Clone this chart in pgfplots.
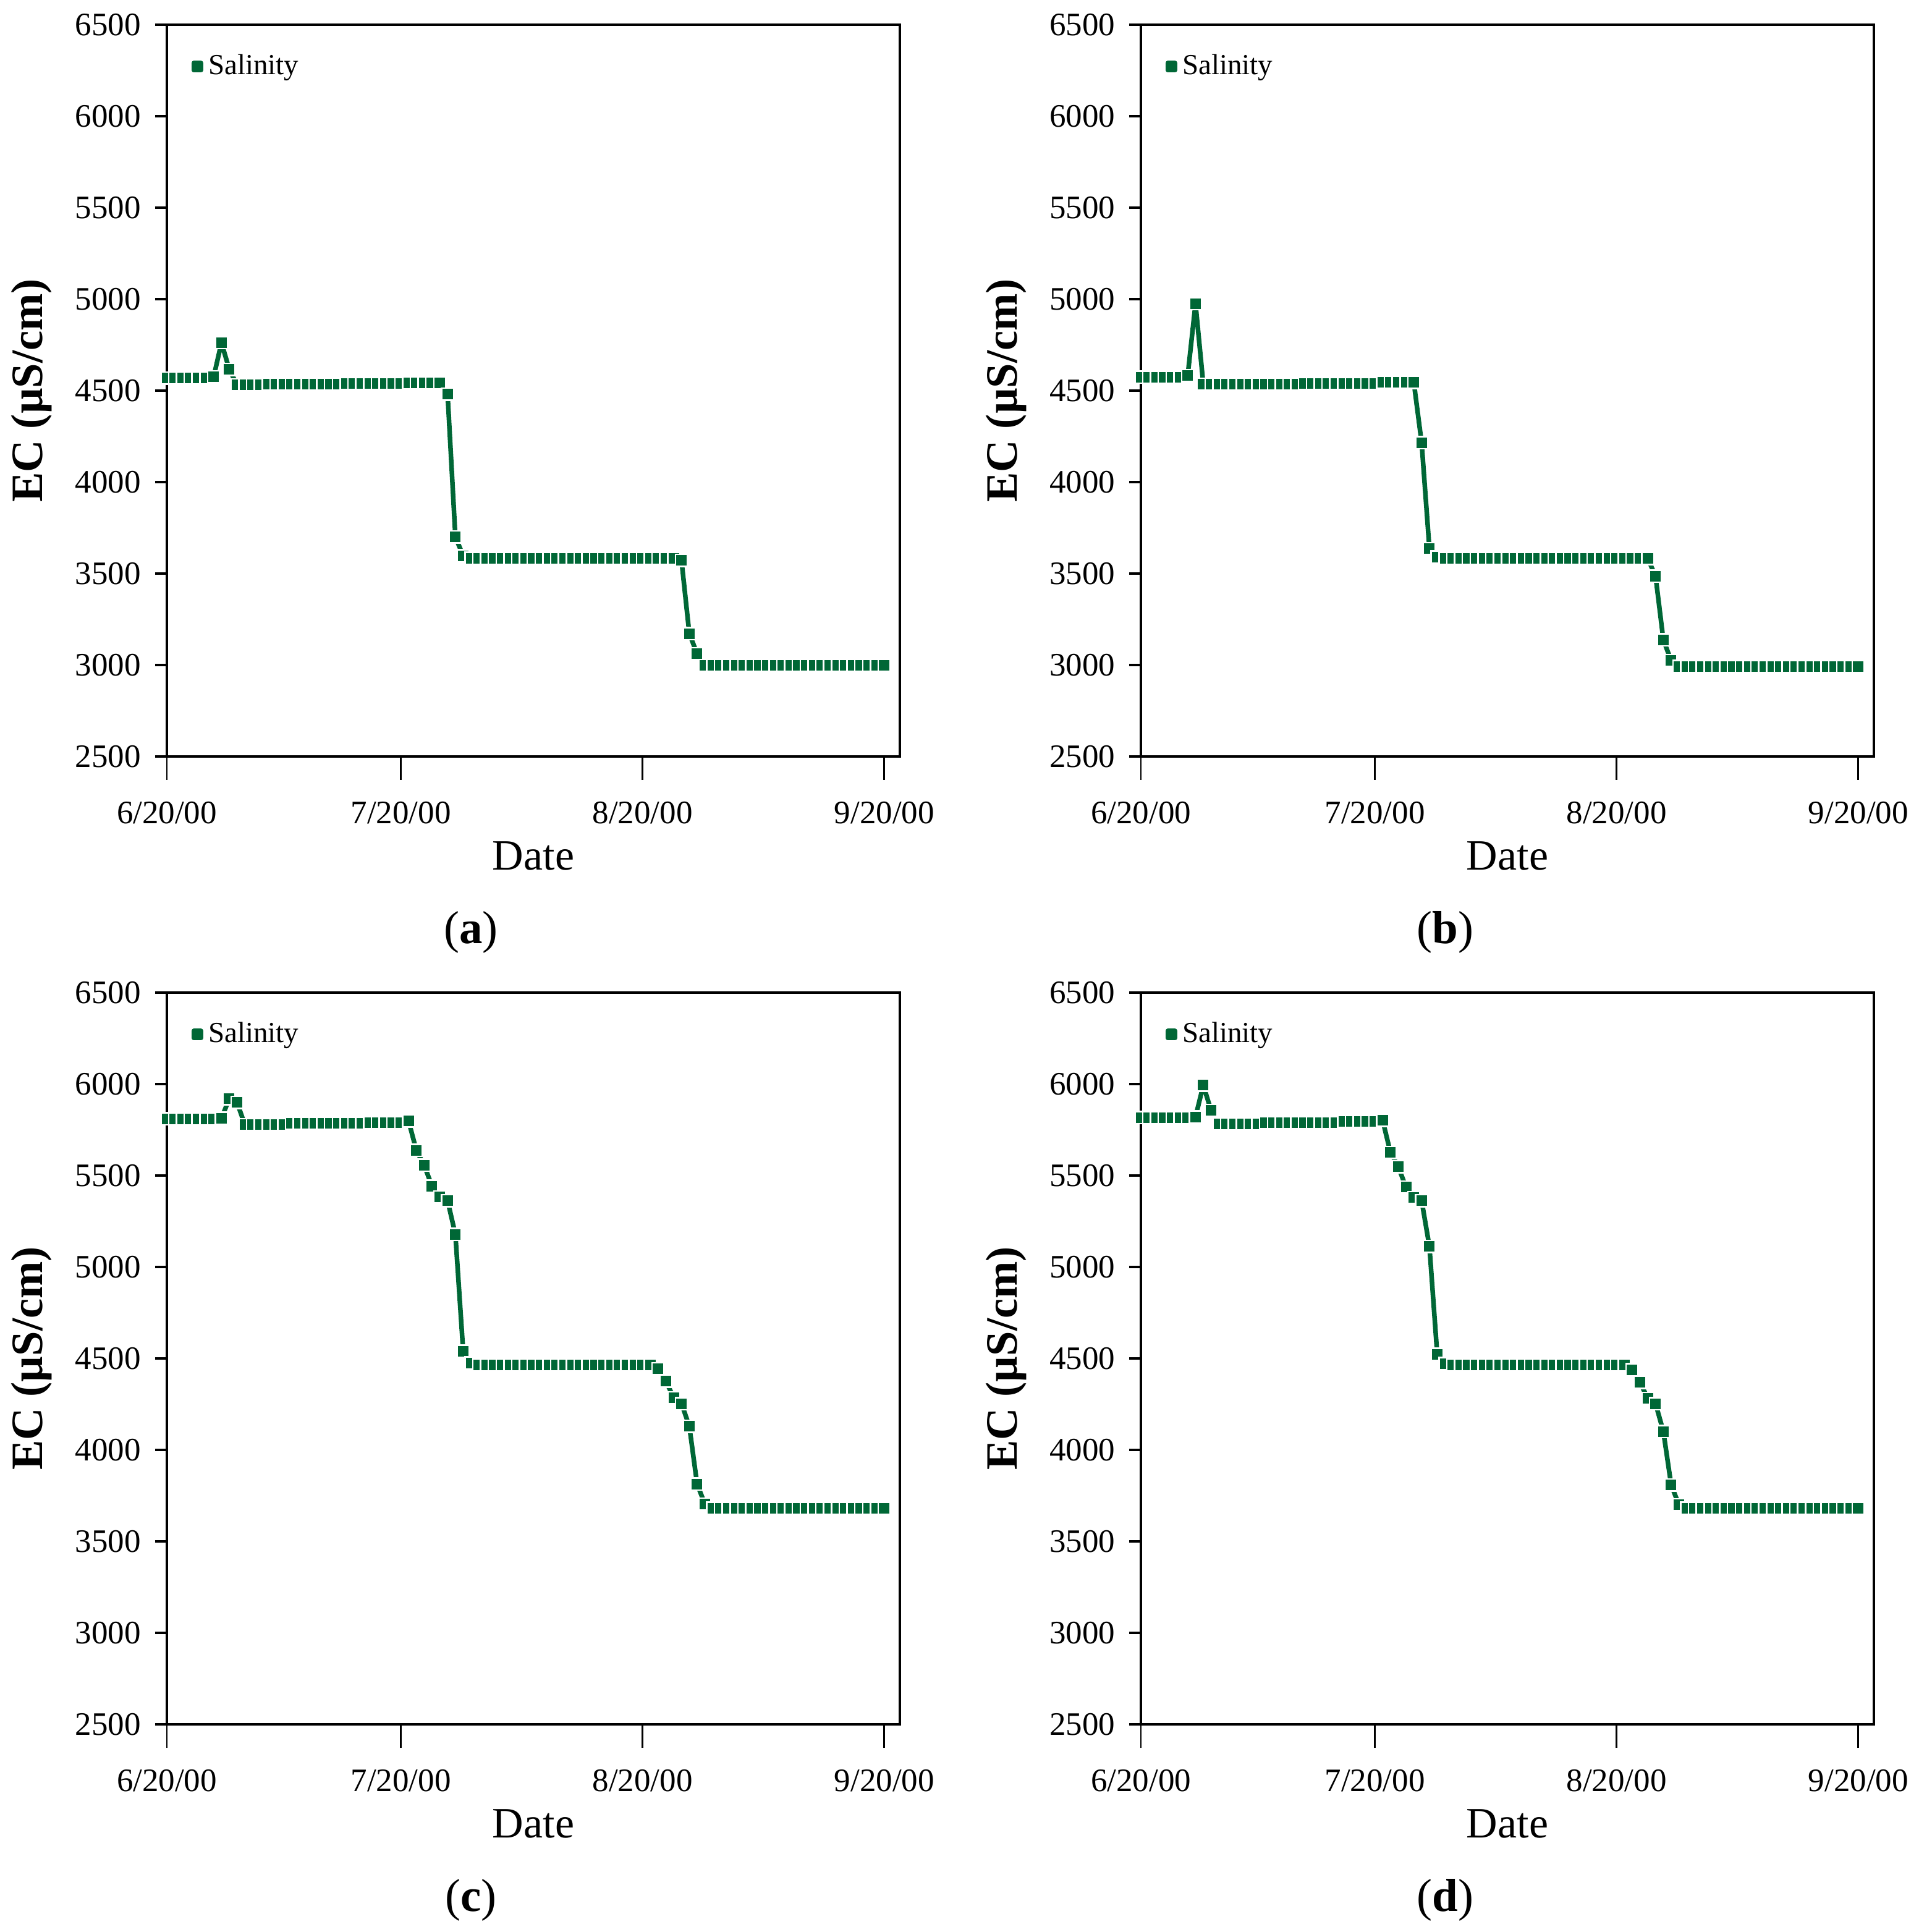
\documentclass[border=0pt]{standalone}
\usepackage{fontspec}
\setmainfont{Liberation Serif}
\usepackage{pgfplots}
\pgfplotsset{compat=1.18}
\usepackage{pgfplotstable}
\definecolor{ecgreen}{RGB}{0,103,54}

\pgfplotstableread[row sep=\\]{
x y\\
0 4568\\ 1 4568\\ 2 4568\\ 3 4568\\ 4 4568\\ 5 4568\\ 6 4575\\ 7 4762\\ 8 4616\\ 9 4531\\
10 4531\\ 11 4531\\ 12 4531\\ 13 4535\\ 14 4535\\ 15 4535\\ 16 4535\\ 17 4535\\ 18 4535\\ 19 4535\\
20 4535\\ 21 4535\\ 22 4535\\ 23 4538\\ 24 4538\\ 25 4538\\ 26 4538\\ 27 4538\\ 28 4538\\ 29 4538\\
30 4538\\ 31 4542\\ 32 4542\\ 33 4542\\ 34 4542\\ 35 4542\\ 36 4481\\ 37 3700\\ 38 3597\\ 39 3584\\
40 3584\\ 41 3584\\ 42 3584\\ 43 3584\\ 44 3584\\ 45 3584\\ 46 3584\\ 47 3584\\ 48 3584\\ 49 3584\\
50 3584\\ 51 3584\\ 52 3584\\ 53 3584\\ 54 3584\\ 55 3584\\ 56 3584\\ 57 3584\\ 58 3584\\ 59 3584\\
60 3584\\ 61 3584\\ 62 3584\\ 63 3584\\ 64 3584\\ 65 3584\\ 66 3571\\ 67 3172\\ 68 3061\\ 69 2997\\
70 2997\\ 71 2997\\ 72 2997\\ 73 2997\\ 74 2997\\ 75 2997\\ 76 2997\\ 77 2997\\ 78 2997\\ 79 2997\\
80 2997\\ 81 2997\\ 82 2997\\ 83 2997\\ 84 2997\\ 85 2997\\ 86 2997\\ 87 2997\\ 88 2997\\ 89 2997\\
90 2997\\ 91 2997\\ 92 2997\\
}\dataA

\pgfplotstableread[row sep=\\]{
x y\\
0 4573\\ 1 4573\\ 2 4573\\ 3 4573\\ 4 4573\\ 5 4573\\ 6 4582\\ 7 4976\\ 8 4535\\ 9 4535\\
10 4535\\ 11 4535\\ 12 4535\\ 13 4535\\ 14 4535\\ 15 4535\\ 16 4535\\ 17 4535\\ 18 4535\\ 19 4535\\
20 4535\\ 21 4540\\ 22 4540\\ 23 4540\\ 24 4540\\ 25 4540\\ 26 4540\\ 27 4540\\ 28 4540\\ 29 4540\\
30 4540\\ 31 4544\\ 32 4544\\ 33 4544\\ 34 4544\\ 35 4544\\ 36 4215\\ 37 3636\\ 38 3590\\ 39 3582\\
40 3582\\ 41 3582\\ 42 3582\\ 43 3582\\ 44 3582\\ 45 3582\\ 46 3582\\ 47 3582\\ 48 3582\\ 49 3582\\
50 3582\\ 51 3582\\ 52 3582\\ 53 3582\\ 54 3582\\ 55 3582\\ 56 3582\\ 57 3582\\ 58 3582\\ 59 3582\\
60 3582\\ 61 3582\\ 62 3582\\ 63 3582\\ 64 3582\\ 65 3582\\ 66 3485\\ 67 3137\\ 68 3024\\ 69 2993\\
70 2993\\ 71 2993\\ 72 2993\\ 73 2993\\ 74 2993\\ 75 2993\\ 76 2993\\ 77 2993\\ 78 2993\\ 79 2993\\
80 2993\\ 81 2993\\ 82 2993\\ 83 2993\\ 84 2993\\ 85 2993\\ 86 2993\\ 87 2993\\ 88 2993\\ 89 2993\\
90 2993\\ 91 2993\\ 92 2993\\
}\dataB

\pgfplotstableread[row sep=\\]{
x y\\
0 5810\\ 1 5810\\ 2 5810\\ 3 5810\\ 4 5810\\ 5 5810\\ 6 5810\\ 7 5813\\ 8 5920\\ 9 5899\\
10 5778\\ 11 5778\\ 12 5778\\ 13 5778\\ 14 5778\\ 15 5778\\ 16 5785\\ 17 5785\\ 18 5785\\ 19 5785\\
20 5785\\ 21 5785\\ 22 5785\\ 23 5785\\ 24 5785\\ 25 5785\\ 26 5790\\ 27 5790\\ 28 5790\\ 29 5790\\
30 5790\\ 31 5798\\ 32 5637\\ 33 5556\\ 34 5442\\ 35 5383\\ 36 5363\\ 37 5178\\ 38 4539\\ 39 4475\\
40 4465\\ 41 4465\\ 42 4465\\ 43 4465\\ 44 4465\\ 45 4465\\ 46 4465\\ 47 4465\\ 48 4465\\ 49 4465\\
50 4465\\ 51 4465\\ 52 4465\\ 53 4465\\ 54 4465\\ 55 4465\\ 56 4465\\ 57 4465\\ 58 4465\\ 59 4465\\
60 4465\\ 61 4465\\ 62 4465\\ 63 4444\\ 64 4376\\ 65 4285\\ 66 4253\\ 67 4130\\ 68 3813\\ 69 3704\\
70 3681\\ 71 3681\\ 72 3681\\ 73 3681\\ 74 3681\\ 75 3681\\ 76 3681\\ 77 3681\\ 78 3681\\ 79 3681\\
80 3681\\ 81 3681\\ 82 3681\\ 83 3681\\ 84 3681\\ 85 3681\\ 86 3681\\ 87 3681\\ 88 3681\\ 89 3681\\
90 3681\\ 91 3681\\ 92 3681\\
}\dataC

\pgfplotstableread[row sep=\\]{
x y\\
0 5817\\ 1 5817\\ 2 5817\\ 3 5817\\ 4 5817\\ 5 5817\\ 6 5817\\ 7 5820\\ 8 5994\\ 9 5855\\
10 5783\\ 11 5783\\ 12 5783\\ 13 5783\\ 14 5783\\ 15 5783\\ 16 5790\\ 17 5790\\ 18 5790\\ 19 5790\\
20 5790\\ 21 5790\\ 22 5790\\ 23 5790\\ 24 5790\\ 25 5790\\ 26 5797\\ 27 5797\\ 28 5797\\ 29 5797\\
30 5797\\ 31 5802\\ 32 5626\\ 33 5548\\ 34 5436\\ 35 5379\\ 36 5363\\ 37 5112\\ 38 4523\\ 39 4472\\
40 4464\\ 41 4464\\ 42 4464\\ 43 4464\\ 44 4464\\ 45 4464\\ 46 4464\\ 47 4464\\ 48 4464\\ 49 4464\\
50 4464\\ 51 4464\\ 52 4464\\ 53 4464\\ 54 4464\\ 55 4464\\ 56 4464\\ 57 4464\\ 58 4464\\ 59 4464\\
60 4464\\ 61 4464\\ 62 4464\\ 63 4438\\ 64 4369\\ 65 4282\\ 66 4253\\ 67 4101\\ 68 3809\\ 69 3700\\
70 3681\\ 71 3681\\ 72 3681\\ 73 3681\\ 74 3681\\ 75 3681\\ 76 3681\\ 77 3681\\ 78 3681\\ 79 3681\\
80 3681\\ 81 3681\\ 82 3681\\ 83 3681\\ 84 3681\\ 85 3681\\ 86 3681\\ 87 3681\\ 88 3681\\ 89 3681\\
90 3681\\ 91 3681\\ 92 3681\\
}\dataD

\pgfplotsset{
  ecpanel/.style={
    scale only axis, width=237.2pt, height=236.8pt,
    anchor=north west,
    xmin=0, xmax=94, ymin=2500, ymax=6500,
    xtick={0,30,61,92},
    xticklabels={6/20/00,7/20/00,8/20/00,9/20/00},
    ytick={2500,3000,3500,4000,4500,5000,5500,6000,6500},
    tick align=outside, xtick pos=lower, ytick pos=left,
    axis line style={line width=0.8pt},
    major tick length=3.8pt,
    ytick style={line width=0.9pt, black},
    xtick style={line width=0.55pt, black, /pgfplots/major tick length=7.6pt},
    /pgf/number format/1000 sep={},
    /pgf/number format/assume math mode=true,
    tick label style={font=\fontsize{10.6}{12}\selectfont},
    yticklabel style={inner sep=0pt, anchor=east, xshift=-4.4pt},
    xticklabel style={inner sep=0pt, anchor=north, yshift=-10.6pt},
    xlabel={Date},
    ylabel={\textbf{EC (µS/cm)}},
    xlabel style={at={(axis description cs:0.5,-0.1546)}, anchor=base, inner sep=0pt,
      font=\fontsize{14}{16}\selectfont},
    ylabel style={at={(axis description cs:-0.1695,0.5)}, anchor=base, inner sep=0pt,
      font=\fontsize{14.5}{16}\selectfont},
    clip=false,
    legend style={draw=none, fill=none, inner sep=0pt, outer sep=0pt,
      at={(axis description cs:0.0329,0.9426)}, anchor=west,
      font=\fontsize{9.4}{11}\selectfont,
      nodes={inner sep=1.5pt}},
    legend image code/.code={
      \draw[ecgreen, line width=0.3pt] (0pt,0pt) -- (3.8pt,0pt);
      \fill[ecgreen] (0.75pt,-1.15pt) rectangle (3.05pt,1.15pt);
    },
  },
  ecline/.style={
    color=ecgreen, line width=1.5pt, line join=round,
    mark=square*, mark size=1.95pt,
    mark options={fill=ecgreen, draw=white, line width=0.5pt, solid, line join=miter},
  },
}

\begin{document}
\begin{tikzpicture}
\path (0,0) rectangle (620.8pt,-625.2pt);

\begin{axis}[ecpanel, at={(54pt,-8pt)}]
\addplot[ecline] table[x=x,y=y] {\dataA};
\addlegendentry{Salinity}
\node[anchor=base, font=\fontsize{15}{17}\selectfont] at (axis description cs:0.415,-0.2551) {(\textbf{a})};
\end{axis}

\begin{axis}[ecpanel, at={(369.2pt,-8pt)}]
\addplot[ecline] table[x=x,y=y] {\dataB};
\addlegendentry{Salinity}
\node[anchor=base, font=\fontsize{15}{17}\selectfont] at (axis description cs:0.415,-0.2551) {(\textbf{b})};
\end{axis}

\begin{axis}[ecpanel, at={(54pt,-321.2pt)}]
\addplot[ecline] table[x=x,y=y] {\dataC};
\addlegendentry{Salinity}
\node[anchor=base, font=\fontsize{15}{17}\selectfont] at (axis description cs:0.415,-0.2551) {(\textbf{c})};
\end{axis}

\begin{axis}[ecpanel, at={(369.2pt,-321.2pt)}]
\addplot[ecline] table[x=x,y=y] {\dataD};
\addlegendentry{Salinity}
\node[anchor=base, font=\fontsize{15}{17}\selectfont] at (axis description cs:0.415,-0.2551) {(\textbf{d})};
\end{axis}
\end{tikzpicture}
\end{document}
